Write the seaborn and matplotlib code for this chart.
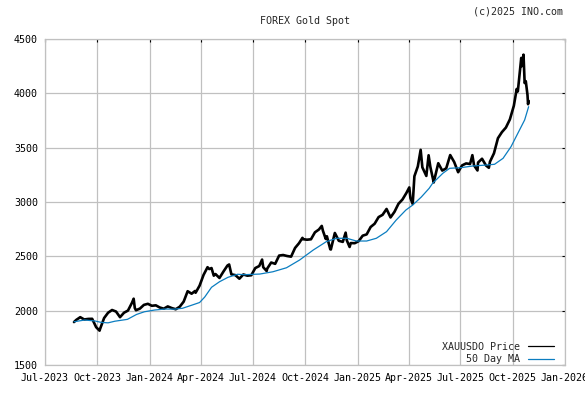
import matplotlib
matplotlib.use("Agg")
import matplotlib.pyplot as plt
import matplotlib.dates as mdates
import pandas as pd
import seaborn as sns

# ---- data ----
price_dates = [
    "2023-08-21", "2023-08-25", "2023-09-01", "2023-09-08", "2023-09-15", "2023-09-22",
    "2023-09-29", "2023-10-05", "2023-10-06", "2023-10-13", "2023-10-20", "2023-10-27",
    "2023-11-03", "2023-11-10", "2023-11-17", "2023-11-24", "2023-12-01", "2023-12-04",
    "2023-12-06", "2023-12-08", "2023-12-15", "2023-12-22", "2023-12-29",
    "2024-01-05", "2024-01-12", "2024-01-19", "2024-01-26", "2024-02-02", "2024-02-09",
    "2024-02-16", "2024-02-23", "2024-03-01", "2024-03-08", "2024-03-15", "2024-03-21",
    "2024-03-22", "2024-03-29", "2024-04-05", "2024-04-12", "2024-04-15", "2024-04-19",
    "2024-04-23", "2024-04-26", "2024-05-03", "2024-05-10", "2024-05-17", "2024-05-20",
    "2024-05-24", "2024-05-31", "2024-06-07", "2024-06-14", "2024-06-21", "2024-06-28",
    "2024-07-05", "2024-07-12", "2024-07-17", "2024-07-19", "2024-07-25", "2024-07-26",
    "2024-08-02", "2024-08-09", "2024-08-16", "2024-08-23", "2024-08-30", "2024-09-06",
    "2024-09-13", "2024-09-20", "2024-09-26", "2024-09-27", "2024-10-04", "2024-10-11",
    "2024-10-18", "2024-10-25", "2024-10-30", "2024-11-01", "2024-11-06", "2024-11-08",
    "2024-11-14", "2024-11-15", "2024-11-22", "2024-11-29", "2024-12-06", "2024-12-11",
    "2024-12-13", "2024-12-18", "2024-12-20", "2024-12-27",
    "2025-01-03", "2025-01-10", "2025-01-17", "2025-01-24", "2025-01-31", "2025-02-07",
    "2025-02-14", "2025-02-21", "2025-02-28", "2025-03-07", "2025-03-14", "2025-03-21",
    "2025-03-28", "2025-04-02", "2025-04-04", "2025-04-08", "2025-04-11", "2025-04-17",
    "2025-04-22", "2025-04-25", "2025-05-02", "2025-05-06", "2025-05-09", "2025-05-15",
    "2025-05-16", "2025-05-23", "2025-05-30", "2025-06-06", "2025-06-13", "2025-06-20",
    "2025-06-27", "2025-06-30", "2025-07-04", "2025-07-11", "2025-07-18", "2025-07-22",
    "2025-07-25", "2025-07-31", "2025-08-01", "2025-08-08", "2025-08-15", "2025-08-20",
    "2025-08-22", "2025-08-29", "2025-09-05", "2025-09-12", "2025-09-19", "2025-09-26",
    "2025-10-03", "2025-10-08", "2025-10-10", "2025-10-16", "2025-10-17", "2025-10-20",
    "2025-10-22", "2025-10-24", "2025-10-27", "2025-10-28", "2025-10-29",
]
price_values = [
    1895, 1915, 1940, 1919, 1924, 1925,
    1848, 1816, 1833, 1932, 1981, 2006,
    1992, 1940, 1981, 2001, 2072, 2110,
    2025, 2004, 2019, 2053, 2063,
    2045, 2049, 2029, 2018, 2039, 2024,
    2013, 2036, 2083, 2179, 2156, 2181,
    2165, 2230, 2329, 2400, 2383, 2392,
    2322, 2337, 2301, 2360, 2415, 2425,
    2334, 2327, 2294, 2333, 2322, 2326,
    2392, 2411, 2470, 2400, 2365, 2387,
    2443, 2431, 2507, 2512, 2503, 2497,
    2577, 2621, 2670, 2658, 2653, 2657,
    2721, 2747, 2780, 2736, 2660, 2685,
    2565, 2563, 2715, 2643, 2633, 2718,
    2648, 2586, 2622, 2621,
    2640, 2690, 2702, 2770, 2800, 2861,
    2882, 2936, 2858, 2910, 2984, 3023,
    3084, 3134, 3037, 2982, 3237, 3327,
    3480, 3319, 3240, 3430, 3325, 3180,
    3203, 3357, 3289, 3310, 3432, 3368,
    3274, 3303, 3337, 3355, 3350, 3431,
    3337, 3290, 3363, 3398, 3336, 3315,
    3371, 3448, 3587, 3643, 3685, 3760,
    3886, 4040, 4018, 4326, 4250, 4356,
    4095, 4112, 3985, 3900, 3930,
]

ma_dates = [
    "2023-08-21", "2023-09-09", "2023-09-27", "2023-10-08", "2023-10-20", "2023-11-01",
    "2023-11-23", "2023-12-09", "2023-12-23", "2024-01-10", "2024-01-28", "2024-02-14",
    "2024-02-28", "2024-03-15", "2024-03-29", "2024-04-07", "2024-04-19", "2024-05-03",
    "2024-05-18", "2024-06-04", "2024-06-16", "2024-07-13", "2024-08-05", "2024-08-29",
    "2024-09-21", "2024-10-15", "2024-11-07", "2024-11-25", "2024-12-13", "2024-12-30",
    "2025-01-17", "2025-02-03", "2025-02-21", "2025-03-10", "2025-03-27", "2025-04-08",
    "2025-04-23", "2025-05-07", "2025-05-13", "2025-05-31", "2025-06-12", "2025-07-02",
    "2025-07-22", "2025-08-15", "2025-08-30", "2025-09-14", "2025-09-28", "2025-10-10",
    "2025-10-22", "2025-10-29",
]
ma_values = [
    1898, 1914, 1905, 1892, 1888, 1903,
    1920, 1965, 1990, 2006, 2015, 2014,
    2022, 2050, 2075, 2125, 2215, 2266,
    2307, 2335, 2331, 2337, 2358, 2395,
    2466, 2558, 2635, 2666, 2666, 2641,
    2641, 2666, 2727, 2834, 2926, 2972,
    3045, 3126, 3172, 3264, 3310, 3316,
    3331, 3340, 3347, 3402, 3509, 3632,
    3755, 3877,
]

y_ticks = [1500, 2000, 2500, 3000, 3500, 4000, 4500]
x_tick_dates = ["2023-07-01", "2023-10-01", "2024-01-01", "2024-04-01", "2024-07-01",
                "2024-10-01", "2025-01-01", "2025-04-01", "2025-07-01", "2025-10-01",
                "2026-01-01"]

price_df = pd.DataFrame({"date": pd.to_datetime(price_dates), "value": price_values})
ma_df = pd.DataFrame({"date": pd.to_datetime(ma_dates), "value": ma_values})

sns.set_style("white")
plt.rcParams["font.family"] = ["DejaVu Sans Mono"]
FS = 7.2
GRID = "#c0c0c0"
BLUE = "#0b7dc0"

fig = plt.figure(figsize=(5.85, 3.94), dpi=100)
ax = fig.add_axes([45 / 585, 29 / 394, 520 / 585, 326 / 394])

sns.lineplot(data=price_df, x="date", y="value", ax=ax, color="black", lw=1.9,
             label="XAUUSDO Price")
sns.lineplot(data=ma_df, x="date", y="value", ax=ax, color=BLUE, lw=0.9,
             label="50 Day MA")

ax.set_xlim(pd.Timestamp("2023-07-01"), pd.Timestamp("2026-01-01"))
ax.set_ylim(1500, 4500)
ax.set_yticks(y_ticks)
ax.set_xticks(pd.to_datetime(x_tick_dates))
ax.xaxis.set_major_formatter(mdates.DateFormatter("%b-%Y"))
ax.set_xlabel("")
ax.set_ylabel("")

ax.grid(True, color=GRID, lw=0.9)
ax.set_axisbelow(True)
for s in ax.spines.values():
    s.set_color(GRID)
    s.set_linewidth(0.9)
ax.tick_params(direction="in", length=2.5, width=0.8, color="black",
               top=True, right=True, labeltop=False, labelright=False,
               labelsize=FS, colors="black")
ax.tick_params(axis="x", pad=6)
ax.tick_params(axis="y", pad=5)
for lab in ax.get_xticklabels() + ax.get_yticklabels():
    lab.set_color("black")

leg = ax.legend(loc="lower right", bbox_to_anchor=(554 / 585, 30 / 394),
                bbox_transform=fig.transFigure, frameon=False, fontsize=FS,
                markerfirst=False, handlelength=2.6, handletextpad=0.8,
                borderpad=0, borderaxespad=0, labelspacing=0.25)
for h in leg.get_lines():
    h.set_linewidth(0.9)

fig.text(305 / 585, 1 - 21 / 394, "FOREX Gold Spot", ha="center", va="center",
         fontsize=FS)
fig.text(563 / 585, 1 - 11 / 394, "(c)2025 INO.com", ha="right", va="center",
         fontsize=FS)

fig.savefig("out.png", dpi=100)
